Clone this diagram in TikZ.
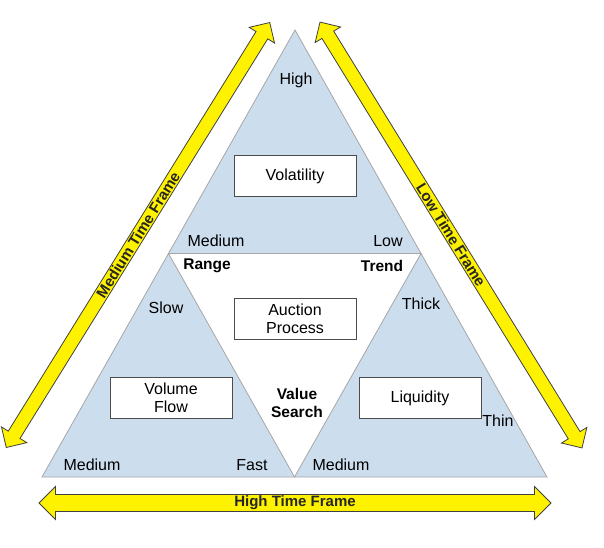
\documentclass[tikz,border=0pt]{standalone}
\usepackage{fontspec}
\setmainfont{Liberation Sans}
\usetikzlibrary{shapes.arrows}
\definecolor{lb}{HTML}{CCDDEE}
\begin{document}
\begin{tikzpicture}[x=1pt,y=-1pt,
  tri/.style={fill=lb, draw=gray!70, line width=0.8pt},
  box/.style={draw=black!70, fill=white, minimum width=122pt, minimum height=41pt, font=\fontsize{16}{18}\selectfont, align=center, inner sep=1pt},
  lab/.style={font=\fontsize{16}{18}\selectfont, inner sep=0pt},
  blab/.style={font=\bfseries\fontsize{15.5}{18}\selectfont, inner sep=0pt, align=center},
  yarr/.style={double arrow, draw=black!75, fill=yellow, line width=0.8pt, minimum width=26pt, double arrow head extend=8pt, inner sep=1pt, font=\bfseries\fontsize{15}{18}\selectfont, text=black!85}]
\useasboundingbox (0,0) rectangle (604,547);
\coordinate (A) at (295,30);
\coordinate (B) at (42,477);
\coordinate (C) at (547,477);
\coordinate (L) at (168.5,253.5);
\coordinate (R) at (421,253.5);
\coordinate (M) at (294.5,477);
\fill[white] (L) -- (R) -- (M) -- cycle;
\path[tri] (A) -- (L) -- (R) -- cycle;
\path[tri] (L) -- (B) -- (M) -- cycle;
\path[tri] (R) -- (M) -- (C) -- cycle;
\node[box] (vol) at (295,176) {Volatility};
\node[box] (auc) at (295,319) {Auction\\Process};
\node[box] (vf) at (171,398) {Volume\\Flow};
\node[box] (liq) at (420,398) {Liquidity};
\node[lab] (high) at (296,80) {High};
\node[lab] (med1) at (216,241) {Medium};
\node[lab] (low) at (388,241) {Low};
\node[blab] (rng) at (207,266) {Range};
\node[blab] (trd) at (382,266) {Trend};
\node[lab] (slow) at (166,308) {Slow};
\node[lab] (thick) at (421,304) {Thick};
\node[blab] (vs) at (297,403) {Value\\Search};
\node[lab] (med2) at (92,465) {Medium};
\node[lab] (fast) at (252,465) {Fast};
\node[lab] (med3) at (341,465) {Medium};
\node[lab] (thin) at (498,421) {Thin};
\node[yarr, minimum height=500pt, rotate=58.2] (la) at (138,235) {Medium Time Frame};
\node[yarr, minimum height=500pt, rotate=-58.4] (ra) at (451,235) {Low Time Frame};
\node[yarr, minimum height=512pt] (ba) at (295,503) {High Time Frame};
\end{tikzpicture}
\end{document}
